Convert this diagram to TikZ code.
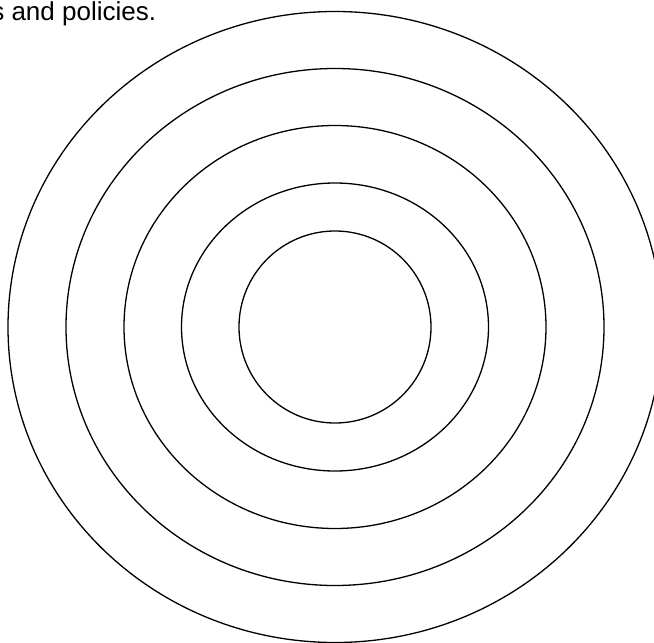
\documentclass[tikz,border=0pt]{standalone}
\usepackage{fontspec}
\setmainfont{Liberation Sans}
\usepackage{tikz}
\tikzset{
  ring/.style={draw=black,line width=1.3pt},
  capt/.style={inner sep=0pt,font=\fontsize{26}{30}\selectfont,text=black},
}

\begin{document}
\begin{tikzpicture}[x=1pt,y=1pt]
  \useasboundingbox (0,0) rectangle (654,-643);
  \clip (0,0) rectangle (654,-643);
  \node[capt,anchor=base west] (caption) at (-8.9,-20.7) {s and policies.};

  % target rings
  \coordinate (ctr) at (335,-327);
  \foreach \rx/\ry in {96/96,153.5/144,211/201.5,269/258.5,327/315.5}
    \draw[ring] (ctr) ellipse[x radius=\rx, y radius=\ry];
\end{tikzpicture}
\end{document}
